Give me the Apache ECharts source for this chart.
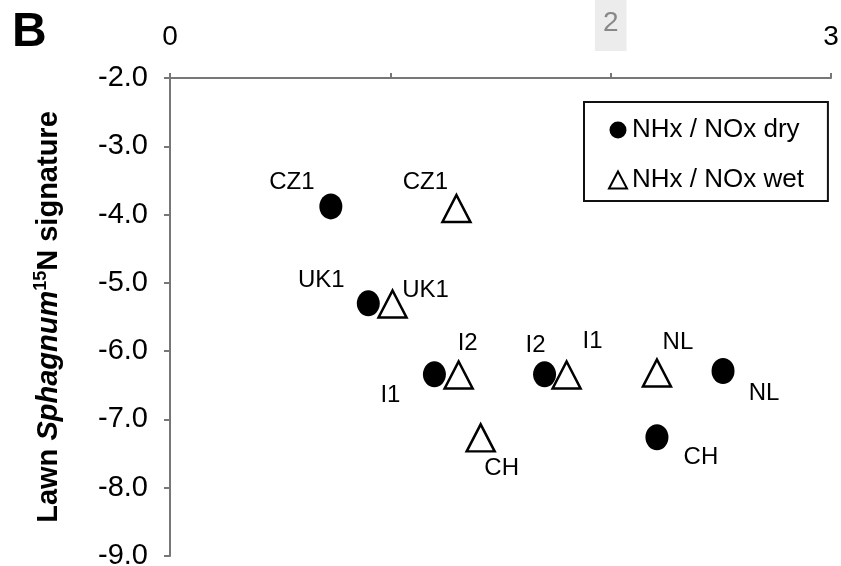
<!DOCTYPE html>
<html>
<head>
<meta charset="utf-8">
<script src="https://cdn.jsdelivr.net/npm/echarts@6/dist/echarts.min.js"></script>
<style>
  html, body { margin: 0; padding: 0; background: #fff; }
  #chart { width: 841px; height: 566px; }
</style>
</head>
<body>
<div id="chart"></div>
<script>
// site labels, x (NHx/NOx ratio) and lawn Sphagnum 15N values
var dryNames = ['CZ1', 'UK1', 'I1', 'I2', 'NL', 'CH'];
var dryX = [0.73, 0.90, 1.20, 1.70, 2.51, 2.21];
var dryY = [-3.88, -5.30, -6.34, -6.34, -6.29, -7.26];

var wetNames = ['CZ1', 'UK1', 'I2', 'I1', 'NL', 'CH'];
var wetX = [1.30, 1.01, 1.31, 1.80, 2.21, 1.41];
var wetY = [-3.91, -5.31, -6.35, -6.35, -6.32, -7.27];

var xTickLabels = ['0', '', '2', '3'];

// where each point label sits relative to its marker (px)
var dryLabelOffset = [[-39, -24], [-47, -23], [-44, 21], [-9, -29], [41, 22], [44, 20]];
var wetLabelOffset = [[-31, -26], [33, -14], [9, -32], [26, -34], [21, -31], [21, 31]];

var FONT = '"Liberation Sans", Arial, sans-serif';

function buildPoints(names, xs, ys, offsets) {
    var out = [];
    for (var i = 0; i < names.length; i++) {
        out.push({
            name: names[i],
            value: [xs[i], ys[i]],
            label: { offset: offsets[i] }
        });
    }
    return out;
}

var chart = echarts.init(document.getElementById('chart'));
var option = {
    animation: false,
    backgroundColor: '#fff',
    title: {
        text: 'B',
        left: 7,
        top: 4,
        textStyle: { fontFamily: FONT, fontSize: 48, fontWeight: 'bold', color: '#000' }
    },
    legend: {
        orient: 'vertical',
        left: 584,
        top: 102,
        padding: [15, 24, 8, 24],
        itemGap: 24,
        itemWidth: 18,
        itemHeight: 17,
        borderColor: '#111',
        borderWidth: 2,
        textStyle: { fontFamily: FONT, fontSize: 26, color: '#000' },
        data: ['NHx / NOx dry', 'NHx / NOx wet']
    },
    grid: { left: 170, right: 10, top: 78, bottom: 10, containLabel: false, outerBoundsMode: 'none' },
    xAxis: {
        type: 'value',
        position: 'top',
        min: 0, max: 3, interval: 1,
        axisLine: { lineStyle: { color: '#777', width: 2 } },
        axisTick: { show: true, length: 5, lineStyle: { color: '#777', width: 2 } },
        splitLine: { show: false },
        axisLabel: {
            margin: 27,
            fontFamily: FONT, fontSize: 28, color: '#000',
            formatter: function (v) {
                var t = xTickLabels[Math.round(v)];
                return t === '2' ? '{g|' + t + '}' : t;
            },
            rich: {
                g: {
                    fontFamily: FONT, fontSize: 28, color: '#888',
                    backgroundColor: '#ececec', padding: [10, 8, 14, 8]
                }
            }
        }
    },
    yAxis: {
        type: 'value',
        min: -9, max: -2, interval: 1,
        axisLine: { lineStyle: { color: '#777', width: 2 } },
        axisTick: { show: true, length: 6, lineStyle: { color: '#777', width: 2 } },
        splitLine: { show: false },
        axisLabel: {
            margin: 22,
            fontFamily: FONT, fontSize: 29, color: '#000',
            formatter: function (v) { return v.toFixed(1); }
        },
        name: '{a|Lawn }{i|Sphagnum}{s|15}{a|N signature}',
        nameLocation: 'middle',
        nameRotate: 90,
        nameGap: 104,
        nameTextStyle: {
            rich: {
                a: { fontFamily: FONT, fontSize: 29, fontWeight: 'bold', color: '#000', lineHeight: 34 },
                i: { fontFamily: FONT, fontSize: 29, fontWeight: 'bold', fontStyle: 'italic', color: '#000', lineHeight: 34 },
                s: { fontFamily: FONT, fontSize: 18, fontWeight: 'bold', color: '#000', lineHeight: 18, verticalAlign: 'top' }
            }
        }
    },
    series: [
        {
            name: 'NHx / NOx dry',
            type: 'scatter',
            symbol: 'circle',
            symbolSize: [23, 26],
            itemStyle: { color: '#000', opacity: 1 },
            label: {
                show: true,
                position: 'inside',
                formatter: '{b}',
                fontFamily: FONT, fontSize: 24, color: '#000'
            },
            emphasis: { disabled: true },
            data: buildPoints(dryNames, dryX, dryY, dryLabelOffset)
        },
        {
            name: 'NHx / NOx wet',
            type: 'scatter',
            symbol: 'triangle',
            symbolSize: [28, 27],
            itemStyle: { color: '#fff', borderColor: '#000', borderWidth: 2.5, opacity: 1 },
            label: {
                show: true,
                position: 'inside',
                formatter: '{b}',
                fontFamily: FONT, fontSize: 24, color: '#000'
            },
            emphasis: { disabled: true },
            data: buildPoints(wetNames, wetX, wetY, wetLabelOffset)
        }
    ]
};
chart.setOption(option);
</script>
</body>
</html>
